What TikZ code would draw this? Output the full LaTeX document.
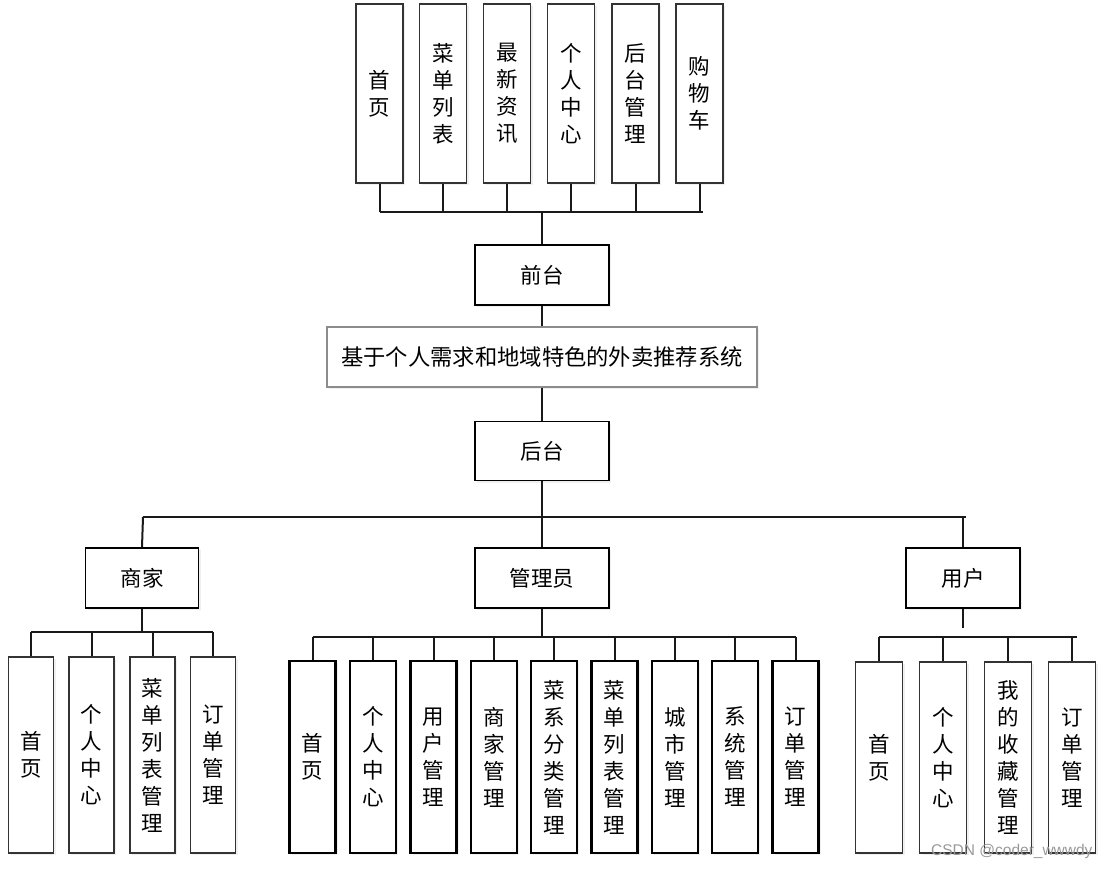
\documentclass[tikz,border=0pt]{standalone}
\usepackage{fontspec}
\newfontfamily\cjk{Noto Sans CJK SC}
\setsansfont{Liberation Sans}
\usetikzlibrary{shadows}
\begin{document}
\begin{tikzpicture}[x=1pt,y=-1pt,
  conn/.style={line width=2pt,draw=black!90},
  basebox/.style={rectangle,fill=white,inner sep=0pt,align=center,
    font={\cjk\fontsize{21.5}{27}\selectfont},
    drop shadow={opacity=0.12,shadow xshift=2pt,shadow yshift=-2pt}},
  vbox/.style={basebox,draw=black!80,line width=1.3pt,minimum width=47pt},
  vboxb/.style={basebox,draw=black,line width=2.2pt,minimum width=46pt},
  hbox/.style={basebox,draw=black,line width=1.8pt,minimum height=60pt},
  titlebox/.style={basebox,draw=black!45,line width=1.2pt,minimum width=430pt,minimum height=60pt,
    font={\cjk\fontsize{22.3}{27}\selectfont}}]
\useasboundingbox (0,0) rectangle (1107,869);

% top row
\node[vbox,minimum height=179pt] (t1) at (379.5,93.5) {首\\页};
\node[vbox,minimum height=179pt] (t2) at (443,93.5) {菜\\单\\列\\表};
\node[vbox,minimum height=179pt] (t3) at (507,93.5) {最\\新\\资\\讯};
\node[vbox,minimum height=179pt] (t4) at (571,93.5) {个\\人\\中\\心};
\node[vbox,minimum height=179pt] (t5) at (635.5,93.5) {后\\台\\管\\理};
\node[vbox,minimum height=179pt] (t6) at (699.5,93.5) {购\\物\\车};

\node[hbox,minimum width=134pt] (qt) at (542,275) {前台};
\node[titlebox] (sys) at (542,357) {基于个人需求和地域特色的外卖推荐系统};
\node[hbox,minimum width=134pt,minimum height=59pt] (ht) at (542,451) {后台};

\node[hbox,minimum width=113pt] (sj) at (142,578) {商家};
\node[hbox,minimum width=134pt] (gly) at (542,578) {管理员};
\node[hbox,minimum width=114pt] (yh) at (963,578) {用户};

% merchant children
\node[vbox,minimum width=45pt,minimum height=196pt] (s1) at (31,755) {首\\页};
\node[vbox,minimum width=45pt,minimum height=196pt] (s2) at (91.5,755) {个\\人\\中\\心};
\node[vbox,minimum width=45pt,minimum height=196pt] (s3) at (152.5,755) {菜\\单\\列\\表\\管\\理};
\node[vbox,minimum width=45pt,minimum height=196pt] (s4) at (213,755) {订\\单\\管\\理};

% admin children
\node[vboxb,minimum height=192pt] (g1) at (312.5,757) {首\\页};
\node[vboxb,minimum height=192pt] (g2) at (373,757) {个\\人\\中\\心};
\node[vboxb,minimum height=192pt] (g3) at (433.5,757) {用\\户\\管\\理};
\node[vboxb,minimum height=192pt] (g4) at (494,757) {商\\家\\管\\理};
\node[vboxb,minimum height=192pt] (g5) at (554,757) {菜\\系\\分\\类\\管\\理};
\node[vboxb,minimum height=192pt] (g6) at (614.5,757) {菜\\单\\列\\表\\管\\理};
\node[vboxb,minimum height=192pt] (g7) at (675,757) {城\\市\\管\\理};
\node[vboxb,minimum height=192pt] (g8) at (735,757) {系\\统\\管\\理};
\node[vboxb,minimum height=192pt] (g9) at (795.5,757) {订\\单\\管\\理};

% user children
\node[vbox,minimum height=191pt] (u1) at (879,757.5) {首\\页};
\node[vbox,minimum height=191pt] (u2) at (943,757.5) {个\\人\\中\\心};
\node[vbox,minimum height=191pt] (u3) at (1008,757.5) {我\\的\\收\\藏\\管\\理};
\node[vbox,minimum height=191pt] (u4) at (1072,757.5) {订\\单\\管\\理};

% bus coordinates
\coordinate (tbL) at (379.5,212);
\coordinate (tbR) at (703,212);
\coordinate (mbL) at (143,517);
\coordinate (mbR) at (966,517);
\coordinate (sbL) at (31,632);
\coordinate (sbR) at (213,632);
\coordinate (gbL) at (312.5,637);
\coordinate (gbR) at (795.5,637);
\coordinate (ubL) at (879,637);
\coordinate (ubR) at (1077,637);
\coordinate (ustem) at (963,628);

% top connectors
\draw[conn] (tbL) -- (tbR);
\foreach \n in {t1,t2,t3,t4,t5,t6} \draw[conn] (\n.south) -- (\n.south |- tbL);
\draw[conn] (tbL -| qt.north) -- (qt.north);
\draw[conn] (qt.south) -- (sys.north);
\draw[conn] (sys.south) -- (ht.north);
\draw[conn] (ht.south) -- (ht.south |- mbL);
\draw[conn] (mbL) -- (mbR);
\draw[conn] (mbL) -- (sj.north);
\draw[conn] (mbL -| gly.north) -- (gly.north);
\draw[conn] (mbL -| yh.north) -- (yh.north);

% merchant connectors
\draw[conn] (sj.south) -- (sj.south |- sbL);
\draw[conn] (sbL) -- (sbR);
\foreach \n in {s1,s2,s3,s4} \draw[conn] (\n.north |- sbL) -- (\n.north);

% admin connectors
\draw[conn] (gly.south) -- (gly.south |- gbL);
\draw[conn] (gbL) -- (gbR);
\foreach \n in {g1,g2,g3,g4,g5,g6,g7,g8,g9} \draw[conn] (\n.north |- gbL) -- (\n.north);

% user connectors
\draw[conn] (yh.south) -- (ustem);
\draw[conn] (ubL) -- (ubR);
\foreach \n in {u1,u2,u3,u4} \draw[conn] (\n.north |- ubL) -- (\n.north);

% watermark
\node[anchor=base west,inner sep=0pt,text=black!40,font={\sffamily\fontsize{15.5}{16}\selectfont}] (wm) at (931,855) {CSDN @coder\_wwwdy};
\end{tikzpicture}
\end{document}
